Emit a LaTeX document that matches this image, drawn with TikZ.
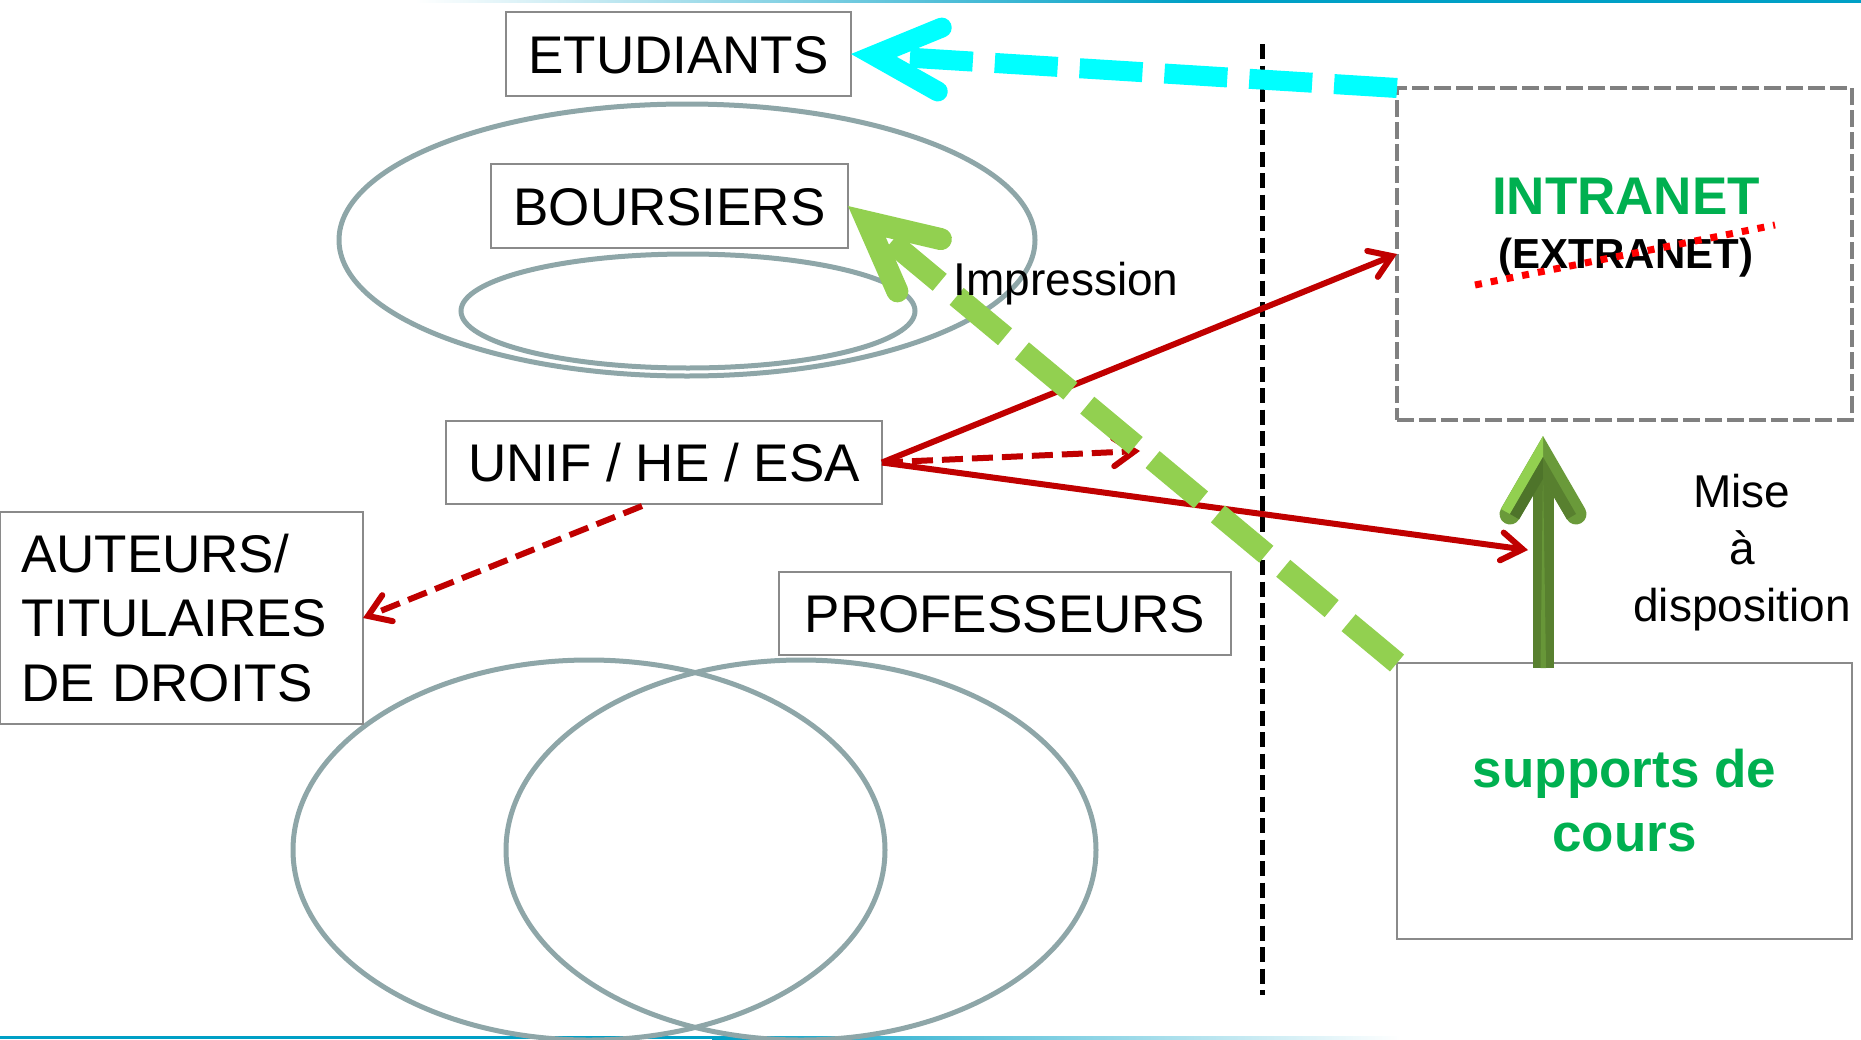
\documentclass[tikz,border=0pt]{standalone}
\usepackage{fontspec}
\setmainfont{Liberation Sans}
\usetikzlibrary{arrows.meta,calc}
\definecolor{boxgray}{HTML}{8A8A8A}
\definecolor{dashgray}{HTML}{808080}
\definecolor{ellcol}{HTML}{8EA6A8}
\definecolor{redarr}{HTML}{C00000}
\definecolor{cyanarr}{HTML}{00FFFF}
\definecolor{glight}{HTML}{92D050}
\definecolor{gmid}{HTML}{6A9A3A}
\definecolor{gdark}{HTML}{58802F}
\definecolor{gdeep}{HTML}{4E742A}
\definecolor{txtgreen}{HTML}{00B050}
\definecolor{tealline}{HTML}{00A0C6}
\begin{document}
\begin{tikzpicture}[x=1pt,y=-1pt,
  box/.style={draw=boxgray, line width=2.8pt, fill=white, inner sep=0pt, outer sep=0pt,
    font=\fontsize{53}{64}\selectfont, text height=38pt, text depth=0pt},
  redline/.style={draw=redarr, line width=6pt, -{Straight Barb[length=21pt,width=28pt,line cap=round]}},
  reddash/.style={redline, dash pattern=on 21pt off 9pt},
  fatdash/.style={line width=#1, dash pattern=on 63pt off 22pt},
  ellline/.style={draw=ellcol, line width=5pt}
]
\useasboundingbox (0,0) rectangle (1861,1039);

% thin teal lines at top and bottom
\shade[left color=white, right color=tealline] (415,0) rectangle (1190,2.5);
\fill[tealline] (1190,0) rectangle (1861,2.5);
\fill[tealline] (0,1036) rectangle (712,1039);
\shade[left color=tealline, right color=white] (712,1036) rectangle (1400,1039);

% ellipses
\draw[ellline] (687,240) ellipse [x radius=348pt, y radius=136pt];
\draw[ellline] (688,311) ellipse [x radius=227pt, y radius=57pt];
\draw[ellline] (589,850) ellipse [x radius=296pt, y radius=190pt];
\draw[ellline] (801,850) ellipse [x radius=295pt, y radius=190pt];

% boxes
\node[box, minimum width=345pt, minimum height=84pt] (etud) at (678.5,54) {ETUDIANTS};
\node[box, minimum width=357pt, minimum height=84pt] (bours) at (669.5,206) {BOURSIERS};
\node[box, minimum width=436pt, minimum height=83pt] (unif) at (664,462.5) {UNIF / HE / ESA};
\node[box, minimum width=452pt, minimum height=83pt] (prof) at (1005,613.5) {PROFESSEURS};
\node[draw=boxgray, line width=2.8pt, fill=white, inner xsep=21pt, inner ysep=0pt, outer sep=0pt,
  minimum height=212pt, text width=321pt, align=left,
  font=\fontsize{53}{64.5}\selectfont] (auteurs) at (181.5,618) {AUTEURS/\\TITULAIRES\\DE DROITS};
\node[draw=dashgray, line width=4.5pt, dash pattern=on 17pt off 5pt, minimum width=455pt,
  minimum height=332pt, inner sep=0pt, outer sep=0pt] (intranet) at (1624.5,254) {};
\node[draw=boxgray, line width=2.8pt, minimum width=455pt, minimum height=276pt,
  inner sep=0pt, outer sep=0pt, align=center, text=txtgreen,
  font=\bfseries\fontsize{53}{64}\selectfont] (supports) at (1624.5,801) {supports de\\cours};

% vertical black dashed separator
\coordinate (vtop) at (1262,44);
\coordinate (vbot) at (1262,995);
\draw[line width=5pt, dash pattern=on 15pt off 6.5pt] (vtop) -- (vbot);

% red arrows
\coordinate (rdend) at (1140,451);
\coordinate (gshaft) at (1528,550);
\coordinate (unifout) at ($(unif.south)+(-22,2)$);
\draw[redline] (unif.east) -- (intranet.west);
\draw[redline] (unif.east) -- (gshaft);
\draw[reddash] (unif.east) -- (rdend);
\draw[reddash, dash pattern=on 20pt off 9pt] (unifout) -- (auteurs.east);

% big green "mise a disposition" arrow
\fill[gdark] (1533,668) rectangle (1554,468);
\fill[gmid!85!gdark] (1540.5,668) -- (1543,470) -- (1546,668) -- cycle;
\draw[gmid, line width=21pt, line cap=round, line join=miter] (1510,514) -- (1543,457) -- (1576,514);
\fill[glight] (1543,436) -- (1500.9,509) -- (1510,514) -- (1543,457) -- cycle;
\fill[gdeep] (1543,457) -- (1510,514) -- (1519.1,519.3) -- (1543,478.8) -- cycle;
\fill[gdark] (1543,457) -- (1576,514) -- (1566.9,519.3) -- (1543,478.8) -- cycle;

% green dashed "Impression" arrow
\draw[glight, fatdash=22pt, -{Straight Barb[length=68pt,width=68pt,line cap=round,line join=miter]}]
  (supports.north west) -- (bours.east);

% cyan dashed arrow
\draw[cyanarr, fatdash=20pt, -{Straight Barb[length=66pt,width=64pt,line cap=round,line join=miter]}]
  (intranet.north west) -- (etud.east);

% texts
\node[anchor=base, inner sep=0pt, text=txtgreen, font=\bfseries\fontsize{53}{64}\selectfont]
  (intr) at (1626,214) {INTRANET};
\node[anchor=base, inner sep=0pt, font=\bfseries\fontsize{42}{50}\selectfont]
  (extr) at (1626,268) {(EXTRANET)};
\coordinate (sa) at (1475,285);
\coordinate (sb) at (1775,225);
\draw[red, line width=7pt, dash pattern=on 7pt off 9pt] (sa) -- (sb);

\node[anchor=base, inner sep=0pt, font=\fontsize{46}{56}\selectfont] (impr) at (1066,295) {Impression};
\node[inner sep=0pt, align=center, font=\fontsize{46}{57}\selectfont] (mise) at (1742,553) {Mise\\à\\disposition};
\end{tikzpicture}
\end{document}
